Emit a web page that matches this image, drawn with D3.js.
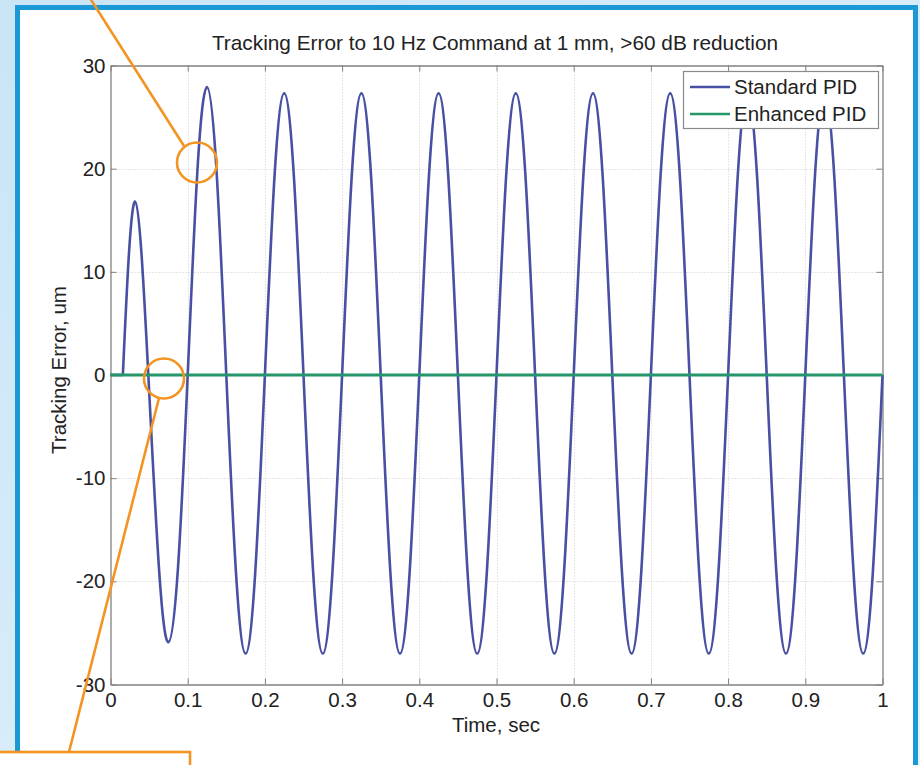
<!DOCTYPE html>
<html><head><meta charset="utf-8">
<script src="https://cdn.jsdelivr.net/npm/d3@7"></script>
<style>html,body{margin:0;padding:0;background:#fff}svg{display:block}</style>
</head><body><div id="chart"></div>
<script>
const titleText = "Tracking Error to 10 Hz Command at 1 mm, >60 dB reduction";
const xLabel = "Time, sec";
const yLabel = "Tracking Error, um";
const xTicks = [0, 0.1, 0.2, 0.3, 0.4, 0.5, 0.6, 0.7, 0.8, 0.9, 1];
const xTickLabels = ["0","0.1","0.2","0.3","0.4","0.5","0.6","0.7","0.8","0.9","1"];
const yTicks = [-30, -20, -10, 0, 10, 20, 30];
const yTickLabels = ["-30","-20","-10","0","10","20","30"];
const seriesNames = ["Standard PID", "Enhanced PID"];

// Standard PID: flat until start, then the response
const stdTime = [0, 0.016,
  0.024, 0.032, 0.040, 0.049, 0.0625, 0.075, 0.0875,
  0.1, 0.1125, 0.125, 0.1375, 0.15, 0.1625, 0.175, 0.1875,
  0.2, 0.2125, 0.225, 0.2375, 0.25, 0.2625, 0.275, 0.2875,
  0.3, 0.3125, 0.325, 0.3375, 0.35, 0.3625, 0.375, 0.3875,
  0.4, 0.4125, 0.425, 0.4375, 0.45, 0.4625, 0.475, 0.4875,
  0.5, 0.5125, 0.525, 0.5375, 0.55, 0.5625, 0.575, 0.5875,
  0.6, 0.6125, 0.625, 0.6375, 0.65, 0.6625, 0.675, 0.6875,
  0.7, 0.7125, 0.725, 0.7375, 0.75, 0.7625, 0.775, 0.7875,
  0.8, 0.8125, 0.825, 0.8375, 0.85, 0.8625, 0.875, 0.8875,
  0.9, 0.9125, 0.925, 0.9375, 0.95, 0.9625, 0.975, 0.9875,
  1.0];
const stdValue = [0, 0,
  11.9, 16.8, 11.9, 0, -18.4, -25.9, -18.6,
  0, 19.7, 27.9, 19.6, 0, -19.1, -27.0, -19.1,
  0, 19.3, 27.3, 19.3, 0, -19.1, -27.0, -19.1,
  0, 19.3, 27.3, 19.3, 0, -19.1, -27.0, -19.1,
  0, 19.3, 27.3, 19.3, 0, -19.1, -27.0, -19.1,
  0, 19.3, 27.3, 19.3, 0, -19.1, -27.0, -19.1,
  0, 19.3, 27.3, 19.3, 0, -19.1, -27.0, -19.1,
  0, 19.3, 27.3, 19.3, 0, -19.1, -27.0, -19.1,
  0, 19.3, 27.3, 19.3, 0, -19.1, -27.0, -19.1,
  0, 19.3, 27.3, 19.3, 0, -19.1, -27.0, -19.1,
  0];
// Enhanced PID: essentially zero throughout
const enhTime = [0, 0.1, 0.2, 0.3, 0.4, 0.5, 0.6, 0.7, 0.8, 0.9, 1.0];
const enhValue = [0, 0, 0, 0, 0, 0, 0, 0, 0, 0, 0];

const W = 920, H = 765;
const svg = d3.select("#chart").append("svg").attr("width", W).attr("height", H);
const defs = svg.append("defs");
const g1 = defs.append("linearGradient").attr("id","bg").attr("x1",0).attr("y1",0).attr("x2",1).attr("y2",1);
g1.append("stop").attr("offset","0%").attr("stop-color","#c9e5f6");
g1.append("stop").attr("offset","100%").attr("stop-color","#e6f3fb");
svg.append("rect").attr("width",W).attr("height",H).attr("fill","url(#bg)");

// frame
svg.append("rect").attr("x",17.5).attr("y",7.5).attr("width",898).attr("height",780)
  .attr("fill","#fff").attr("stroke","#1b98d6").attr("stroke-width",5);

const font = "Liberation Sans, Arial, Helvetica, sans-serif";
const fs = 20.5;
const x = d3.scaleLinear().domain([0,1]).range([110.5, 882.5]);
const y = d3.scaleLinear().domain([-30,30]).range([684.5, 65.5]);

// grid
const grid = svg.append("g").attr("stroke","#cccccc").attr("stroke-width",1).attr("stroke-dasharray","1,2");
grid.selectAll(".gx").data(xTicks.slice(1,-1)).join("line")
  .attr("x1",d=>Math.round(x(d))+0.5).attr("x2",d=>Math.round(x(d))+0.5).attr("y1",y(30)).attr("y2",y(-30));
grid.selectAll(".gy").data(yTicks.slice(1,-1)).join("line")
  .attr("y1",d=>Math.round(y(d))+0.5).attr("y2",d=>Math.round(y(d))+0.5).attr("x1",x(0)).attr("x2",x(1));

// axes (Matlab style ticks inside on all sides)
const axCol = "#808080";
const axB = svg.append("g").attr("transform",`translate(0,${y(-30)})`)
  .call(d3.axisBottom(x).tickValues(xTicks).tickFormat((d,i)=>xTickLabels[i]).tickSizeInner(-6).tickSizeOuter(0).tickPadding(8));
const axT = svg.append("g").attr("transform",`translate(0,${y(30)})`)
  .call(d3.axisTop(x).tickValues(xTicks).tickFormat("").tickSizeInner(-6).tickSizeOuter(0));
const axL = svg.append("g").attr("transform",`translate(${x(0)},0)`)
  .call(d3.axisLeft(y).tickValues(yTicks).tickFormat((d,i)=>yTickLabels[i]).tickSizeInner(-6).tickSizeOuter(0).tickPadding(5));
const axR = svg.append("g").attr("transform",`translate(${x(1)},0)`)
  .call(d3.axisRight(y).tickValues(yTicks).tickFormat("").tickSizeInner(-6).tickSizeOuter(0));
[axB,axT,axL,axR].forEach(a=>{
  a.selectAll("path").attr("stroke",axCol).attr("stroke-width",1.3);
  a.selectAll("line").attr("stroke",axCol);
  a.selectAll("text").attr("font-family",font).attr("font-size",fs).attr("fill","#222");
});
axB.selectAll("text").attr("dy","0.71em");

// lines
const stdData = stdTime.map((t,i)=>({t, v: stdValue[i]}));
const enhData = enhTime.map((t,i)=>({t, v: enhValue[i]}));
const lineLin = d3.line().x(d=>x(d.t)).y(d=>y(d.v));
const lineSmooth = d3.line().x(d=>x(d.t)).y(d=>y(d.v)).curve(d3.curveNatural);
const blue = "#4750a3", green = "#24966a";
svg.append("path").datum(stdData.slice(0,2)).attr("d",lineLin).attr("fill","none").attr("stroke",blue).attr("stroke-width",2.6);
svg.append("path").datum(stdData.slice(1)).attr("d",lineSmooth).attr("fill","none").attr("stroke",blue).attr("stroke-width",2.6).attr("stroke-linejoin","round");
svg.append("path").datum(enhData).attr("d",lineLin).attr("fill","none").attr("stroke",green).attr("stroke-width",2.8);

// title and labels
svg.append("text").attr("x",495).attr("y",50).attr("text-anchor","middle").attr("font-family",font).attr("font-size",20.8).attr("fill","#222").text(titleText);
svg.append("text").attr("x",496).attr("y",732).attr("text-anchor","middle").attr("font-family",font).attr("font-size",fs).attr("fill","#222").text(xLabel);
svg.append("text").attr("transform","translate(66,370) rotate(-90)").attr("text-anchor","middle").attr("font-family",font).attr("font-size",fs).attr("fill","#222").text(yLabel);

// legend
const lg = svg.append("g");
lg.append("rect").attr("x",683.5).attr("y",71.5).attr("width",195).attr("height",57).attr("fill","#fff").attr("stroke","#8a8a8a").attr("stroke-width",1.2);
const colors = [blue, green];
seriesNames.forEach((n,i)=>{
  const cy = 87 + i*27;
  lg.append("line").attr("x1",690).attr("x2",730).attr("y1",cy).attr("y2",cy).attr("stroke",colors[i]).attr("stroke-width",2.4);
  lg.append("text").attr("x",734).attr("y",cy).attr("dy","0.35em").attr("font-family",font).attr("font-size",fs).attr("fill","#222").text(n);
});

// orange annotations
const orange = "#f39422";
const ann = svg.append("g").attr("fill","none").attr("stroke",orange).attr("stroke-width",2.6);
ann.append("line").attr("x1",88).attr("y1",-5).attr("x2",184).attr("y2",146);
ann.append("circle").attr("cx",197).attr("cy",162.5).attr("r",20);
ann.append("circle").attr("cx",164).attr("cy",378.5).attr("r",20);
ann.append("line").attr("x1",159).attr("y1",398).attr("x2",69).attr("y2",752);
svg.append("rect").attr("x",-5).attr("y",752).attr("width",195).attr("height",30).attr("fill","#fff").attr("stroke",orange).attr("stroke-width",2.6);
</script></body></html>
